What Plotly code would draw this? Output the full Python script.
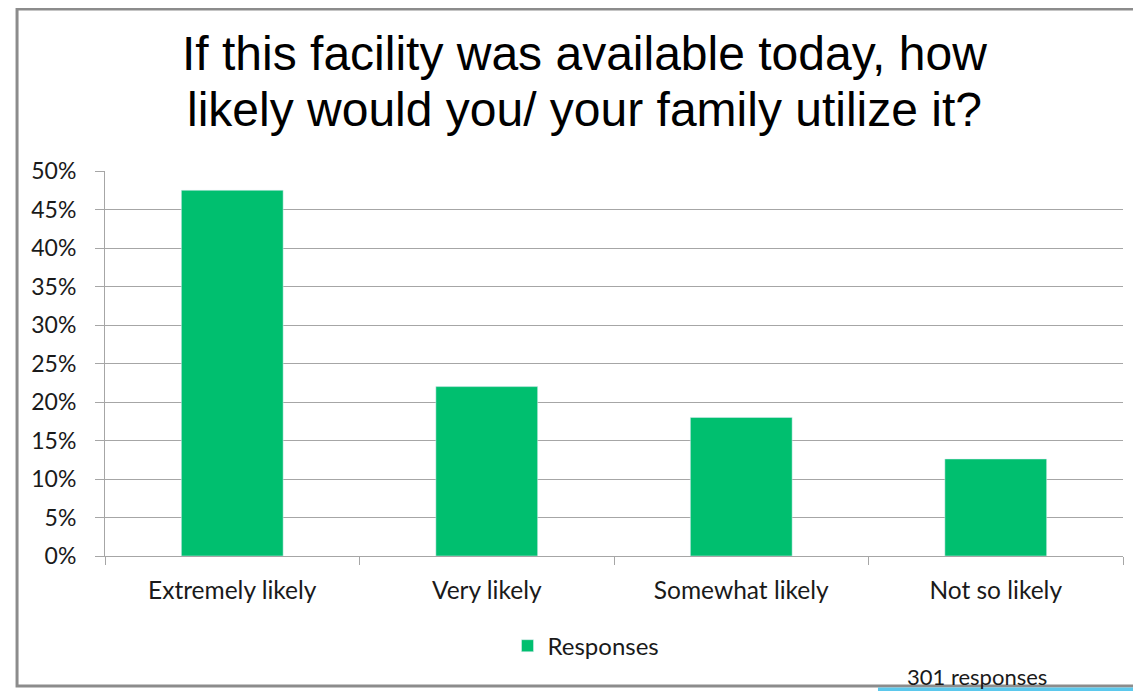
import plotly.graph_objects as go

# survey answers
categories = ["Extremely likely", "Very likely", "Somewhat likely", "Not so likely"]
shares = [0.475, 0.22, 0.18, 0.126]
series_name = "Responses"
title_lines = ["If this facility was available today, how",
               "likely would you/ your family utilize it?"]
note_text = "301 responses"

green = "#00BF6F"
grid = "#A6A6A6"
ink = "#1a1a1a"
label_font = "Lato, Open Sans, sans-serif"

fig = go.Figure()
fig.add_trace(go.Bar(x=categories, y=shares, name=series_name, marker_color=green))

# page body adds an 8px offset, so the figure is 8px smaller on each axis
fig.update_layout(
    width=1133, height=683,
    margin=dict(l=97, r=18, t=163, b=135),
    paper_bgcolor="white", plot_bgcolor="white",
    bargap=0.6,
    showlegend=True,
    legend=dict(orientation="h", x=0.4725, xanchor="center", y=-0.234, yanchor="middle",
                font=dict(family=label_font, size=24, color=ink)),
    font=dict(family=label_font, size=22, color=ink),
)

fig.update_yaxes(range=[0, 0.5], dtick=0.05, tickformat=".0%",
                 showgrid=True, gridcolor=grid, gridwidth=1,
                 showline=True, linecolor=grid, linewidth=1,
                 ticks="outside", ticklen=9, tickcolor=grid, ticklabelstandoff=14,
                 zeroline=False, tickfont=dict(size=23, color=ink))
fig.update_xaxes(showline=True, linecolor=grid, linewidth=1,
                 ticks="outside", ticklen=8, tickcolor=grid, tickson="boundaries",
                 ticklabelstandoff=13,
                 tickfont=dict(size=24.5, color=ink))

# title as two separate lines (tighter line spacing than a <br> title)
for text, ypos in zip(title_lines, [1.304, 1.161]):
    fig.add_annotation(text=text, xref="paper", yref="paper", x=0.4715, y=ypos,
                       xanchor="center", yanchor="middle", showarrow=False,
                       font=dict(family="Liberation Sans, Arial, sans-serif", size=48, color="black"))

fig.add_annotation(text=note_text, xref="paper", yref="paper", x=0.857, y=-0.312,
                   xanchor="center", yanchor="middle", showarrow=False,
                   font=dict(family=label_font, size=22, color=ink))

# slide frame around the chart (top edge kept just inside the page,
# right edge pushed off the page as in the original screenshot)
fig.add_shape(type="rect", xref="paper", yref="paper",
              x0=-0.0864, x1=1.2, y0=-0.3377, y1=1.4208,
              line=dict(color="#8C8C8C", width=3), layer="below")
# light blue slide decoration peeking at the bottom edge
fig.add_shape(type="line", xref="paper", yref="paper",
              x0=0.7593, x1=1.2, y0=-0.347, y1=-0.347,
              line=dict(color="#5BC8EC", width=4))

fig.write_html("out.html")
